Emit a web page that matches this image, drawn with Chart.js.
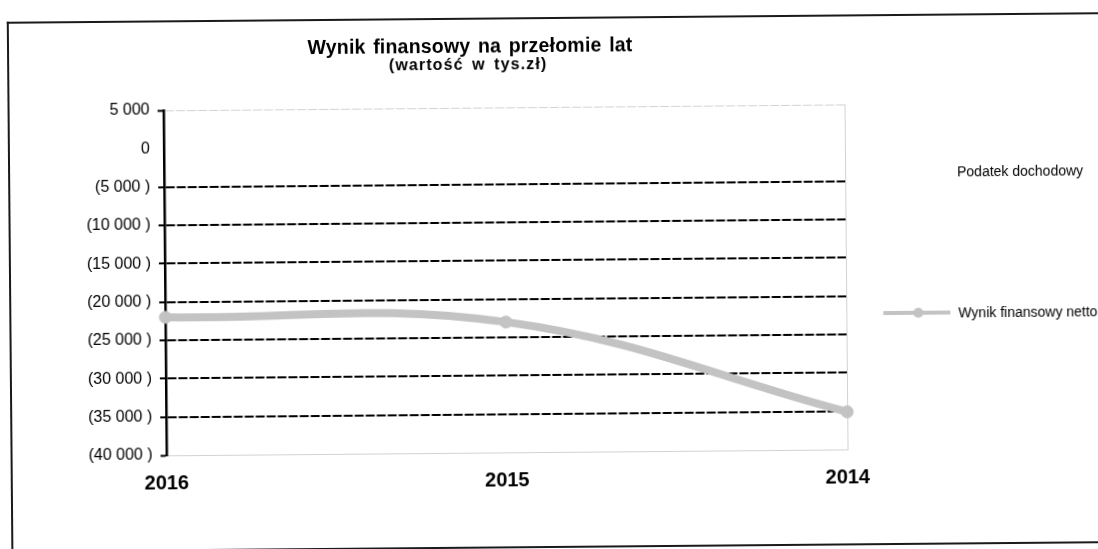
<!DOCTYPE html>
<html lang="pl">
<head>
<meta charset="utf-8">
<title>Wynik finansowy na przełomie lat</title>
<script src="https://cdn.jsdelivr.net/npm/chart.js@4/dist/chart.umd.min.js"></script>
<style>
  html, body { margin: 0; padding: 0; background: #fff; overflow: hidden; }
  body { width: 1098px; height: 549px; font-family: "Liberation Sans", Arial, sans-serif; color: #000; }
  /* the whole sheet is a slightly tilted scan */
  #sheet { position: relative; width: 1098px; height: 549px; transform: rotate(-0.5deg); transform-origin: 549px 274px; }
  /* canvas overhangs the sheet so its rotated edges stay off screen */
  #chart { position: absolute; left: -20px; top: -20px; background: #fff; }
  /* frame runs off the right edge of the scan: top, left and bottom edges only */
  .edge { position: absolute; background: #1a1a1a; }
  #edge-top { left: 9px; top: 17px; width: 1130px; height: 2px; }
  #edge-left { left: 9px; top: 17px; width: 2px; height: 531px; }
  #edge-bottom { left: 9px; top: 546px; width: 1130px; height: 2px; }
  .title { position: absolute; transform: translateX(-50%); white-space: nowrap; font-weight: bold; line-height: 1; }
  #title { left: 472px; top: 36px; font-size: 19.5px; letter-spacing: 0.2px; word-spacing: 2px; }
  #subtitle { left: 470px; top: 56px; font-size: 16px; letter-spacing: 1.1px; word-spacing: 3px; }
  #legend { position: absolute; left: 883px; top: 166px; display: flex; flex-direction: column; gap: 123px; font-size: 14px; }
  #legend .item { display: flex; align-items: center; height: 18px; }
  #legend .sample { position: relative; width: 67px; height: 4px; margin-right: 8px; }
  #legend .sample i { position: absolute; left: 30px; top: -3px; width: 10px; height: 10px; border-radius: 50%; }
</style>
</head>
<body>
<div id="sheet">
  <canvas id="chart" width="1160" height="600"></canvas>
  <div id="edge-top" class="edge"></div>
  <div id="edge-left" class="edge"></div>
  <div id="edge-bottom" class="edge"></div>
  <div id="title" class="title">Wynik finansowy na przełomie lat</div>
  <div id="subtitle" class="title">(wartość w tys.zł)</div>
  <div id="legend"></div>
</div>
<script>
// values in thousands of PLN
const years = ['2016', '2015', '2014']
const incomeTax = [null, null, null]          // listed in the legend, nothing drawn
const netResult = [-22000, -23000, -35100]
const seriesNames = ['Podatek dochodowy', 'Wynik finansowy netto']
const yMin = -40000
const yMax = 5000
const yStep = 5000

const $ = id => document.getElementById(id)
const lineGrey = '#c3c3c3'
const frameGrey = '#d2d2d2'
const font = '"Liberation Sans", Arial, sans-serif'

// 5 000 / (5 000 ) accounting style, space as thousands separator
const group = n => String(n).replace(/\B(?=(\d{3})+(?!\d))/g, ' ')
const money = v => v < 0 ? `(${group(-v)} )` : group(v)

// light frame lines on the outer ticks, none on zero, black dashes between
const yGridColor = ctx => {
  const v = ctx.tick?.value
  if (v === 0) return 'transparent'
  if (v === yMax || v === yMin) return frameGrey
  return '#000'
}
const yGridWidth = ctx => {
  const v = ctx.tick?.value
  return v === yMax || v === yMin ? 1 : 2
}
const yTickColor = ctx => ctx.tick?.value === 0 ? 'transparent' : '#000'

const chart = new Chart($('chart'), {
  type: 'line',
  data: {
    labels: years,
    datasets: [
      { label: seriesNames[0], data: incomeTax, borderColor: 'transparent', backgroundColor: 'transparent', pointRadius: 0 },
      {
        label: seriesNames[1],
        data: netResult,
        borderColor: lineGrey,
        backgroundColor: lineGrey,
        borderWidth: 8,
        tension: 0.4,
        pointRadius: 6,
        pointBackgroundColor: lineGrey,
        pointBorderColor: lineGrey,
        pointBorderWidth: 1,
        clip: false,
      },
    ],
  },
  options: {
    responsive: false,
    animation: false,
    events: [],
    // canvas sits 20px up/left of the sheet; plot spans x 165..846, y 107..452 on the sheet
    layout: { padding: { left: 0, top: 127, right: 294, bottom: 0 } },
    scales: {
      x: {
        offset: false,
        afterFit: s => { s.height = 128 },
        grid: { drawTicks: false, color: ctx => ctx.index === years.length - 1 ? frameGrey : 'transparent' },
        border: { color: frameGrey, width: 1 },
        ticks: { color: '#000', padding: 16, maxRotation: 0, font: { family: font, size: 20, weight: 'bold' } },
      },
      y: {
        min: yMin,
        max: yMax,
        afterFit: s => { s.width = 185 },
        grid: { color: yGridColor, lineWidth: yGridWidth, tickLength: 6, tickColor: yTickColor, tickWidth: 2 },
        border: { color: '#000', width: 2.5, dash: [9, 2] },
        ticks: { stepSize: yStep, padding: 8, color: '#000', callback: money, font: { family: font, size: 16 } },
      },
    },
    plugins: { legend: { display: false }, title: { display: false }, tooltip: { enabled: false } },
  },
})

// legend to the right of the plot, built from the datasets
for (const ds of chart.data.datasets) {
  const item = document.createElement('div')
  item.className = 'item'
  const sample = document.createElement('span')
  sample.className = 'sample'
  const drawn = ds.borderColor !== 'transparent'
  if (drawn) {
    sample.style.background = ds.borderColor
    const dot = document.createElement('i')
    dot.style.background = ds.pointBackgroundColor
    sample.appendChild(dot)
  }
  const text = document.createElement('span')
  text.textContent = ds.label
  item.append(sample, text)
  $('legend').appendChild(item)
}
</script>
</body>
</html>
